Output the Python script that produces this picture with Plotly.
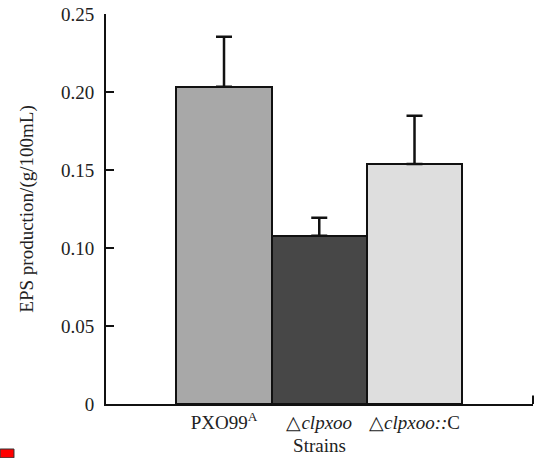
import plotly.graph_objects as go

strains = ["PXO99<sup>A</sup>", "△<i>clpxoo</i>", "△<i>clpxoo::</i>C"]
eps_production = [0.2034, 0.1079, 0.1538]
eps_error = [0.032, 0.0115, 0.031]
bar_colors = ["#a8a8a8", "#474747", "#dedede"]
y_tickvals = [0, 0.05, 0.10, 0.15, 0.20, 0.25]
y_ticktext = ["0", "0.05", "0.10", "0.15", "0.20", "0.25"]

FONT = "Liberation Serif"

fig = go.Figure()
fig.add_trace(go.Bar(
    x=strains,
    y=eps_production,
    marker=dict(color=bar_colors, line=dict(color="#111111", width=2)),
    width=1.0,
    error_y=dict(type="data", symmetric=False, array=eps_error,
                 arrayminus=[0] * len(eps_error),
                 color="#111111", thickness=2.5, width=8),
    showlegend=False,
))

fig.update_layout(
    width=547, height=458,
    margin=dict(l=106, r=14, t=14, b=54),
    paper_bgcolor="white", plot_bgcolor="white",
    font=dict(family=FONT, size=19, color="#222222"),
    bargap=0,
    xaxis=dict(
        range=[-1.239, 3.244],
        automargin=False,
        showline=True, linecolor="#111111", linewidth=2,
        ticks="", showgrid=False, zeroline=False,
        tickfont=dict(family=FONT, size=19),
        title=dict(text="Strains", font=dict(family=FONT, size=19), standoff=7),
    ),
    yaxis=dict(
        range=[0, 0.25],
        automargin=False,
        tickvals=y_tickvals, ticktext=y_ticktext,
        showline=True, linecolor="#111111", linewidth=2,
        ticks="inside", ticklen=8, tickwidth=1.5, tickcolor="#111111",
        ticklabelstandoff=6,
        showgrid=False, zeroline=False,
        tickfont=dict(family=FONT, size=19),
        title=dict(text="EPS production/(g/100mL)", font=dict(family=FONT, size=19), standoff=22),
    ),
    shapes=[
        dict(type="line", xref="paper", yref="paper", x0=1, x1=1, y0=0, y1=0.022,
             line=dict(color="#111111", width=2)),
        dict(type="rect", xref="paper", yref="paper", x0=-0.248, x1=-0.2155,
             y0=-0.138, y1=-0.1154, fillcolor="#ff0000", line=dict(color="#333333", width=1)),
    ],
)

fig.write_html("out.html",
               config={"displayModeBar": False},
               post_script="document.body.style.margin='0px';document.body.style.overflow='hidden';")
